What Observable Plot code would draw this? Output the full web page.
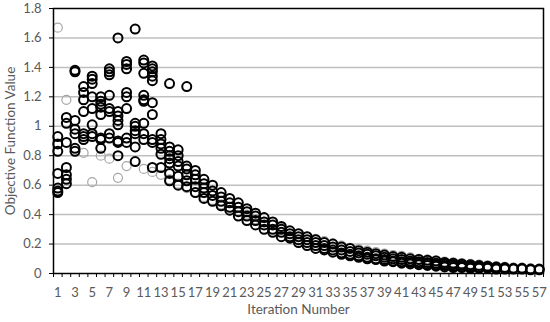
<!DOCTYPE html>
<html>
<head>
<meta charset="utf-8">
<script src="https://cdn.jsdelivr.net/npm/d3@7"></script>
<script src="https://cdn.jsdelivr.net/npm/@observablehq/plot@0.6"></script>
<style>
  html, body { margin: 0; padding: 0; background: #fff; }
  #chart svg { display: block; }
</style>
</head>
<body>
<div id="chart"></div>
<script>
// Iteration numbers (categories)
const iterations = d3.range(1, 58);
// Labelled ticks on the x axis
const xTickLabels = d3.range(1, 58, 2);
// y ticks
const yTicks = [0, 0.2, 0.4, 0.6, 0.8, 1, 1.2, 1.4, 1.6, 1.8];

// Black runs: objective values read per iteration
const blackValues = [
  [0.93, 0.88, 0.83, 0.68, 0.58, 0.56, 0.55],            // 1
  [1.06, 1.02, 0.89, 0.72, 0.67, 0.64, 0.61],            // 2
  [1.38, 1.37, 1.04, 0.98, 0.95, 0.85, 0.83],            // 3
  [1.27, 1.23, 1.18, 1.10, 0.95, 0.93, 0.91],            // 4
  [1.34, 1.32, 1.29, 1.20, 1.12, 1.01, 0.95, 0.93],      // 5
  [1.20, 1.17, 1.15, 1.13, 1.08, 0.92, 0.91, 0.85],      // 6
  [1.39, 1.37, 1.35, 1.21, 1.12, 1.10, 0.95, 0.92],      // 7
  [1.60, 1.10, 1.07, 1.04, 1.01, 0.90, 0.89, 0.80],      // 8
  [1.44, 1.42, 1.39, 1.23, 1.20, 1.12, 0.92, 0.89],      // 9
  [1.66, 1.02, 1.00, 0.97, 0.95, 0.86, 0.76],            // 10
  [1.45, 1.43, 1.36, 1.21, 1.18, 1.17, 1.02, 0.95, 0.91],// 11
  [1.41, 1.39, 1.37, 1.34, 1.31, 1.16, 1.08, 0.91, 0.89, 0.72], // 12
  [0.95, 0.91, 0.88, 0.85, 0.81, 0.72],                  // 13
  [1.29, 0.86, 0.83, 0.80, 0.78, 0.75, 0.68, 0.63],      // 14
  [0.84, 0.80, 0.76, 0.73, 0.66, 0.60],                  // 15
  [1.27, 0.73, 0.71, 0.67, 0.63, 0.59],                  // 16
  [0.70, 0.67, 0.64, 0.59, 0.55],                        // 17
  [0.64, 0.61, 0.58, 0.55, 0.51],                        // 18
  [0.60, 0.56, 0.53, 0.49],                              // 19
  [0.55, 0.52, 0.49, 0.46],                              // 20
  [0.51, 0.48, 0.45, 0.43],                              // 21
  [0.48, 0.45, 0.42, 0.39],                              // 22
  [0.44, 0.42, 0.39, 0.36],                              // 23
  [0.41, 0.39, 0.36, 0.33],                              // 24
  [0.38, 0.35, 0.33, 0.30],                              // 25
  [0.35, 0.33, 0.30, 0.28],                              // 26
  [0.32, 0.30, 0.28, 0.25],                              // 27
  [0.29, 0.27, 0.25, 0.24],                              // 28
  [0.27, 0.25, 0.23, 0.21],                              // 29
  [0.25, 0.23, 0.21, 0.19],                              // 30
  [0.23, 0.21, 0.19, 0.17],                              // 31
  [0.21, 0.19, 0.17, 0.16],                              // 32
  [0.20, 0.18, 0.16, 0.145],                             // 33
  [0.18, 0.16, 0.14, 0.13],                              // 34
  [0.17, 0.15, 0.13, 0.12],                              // 35
  [0.155, 0.14, 0.12, 0.11],                             // 36
  [0.145, 0.13, 0.11, 0.10],                             // 37
  [0.135, 0.12, 0.10, 0.095],                            // 38
  [0.125, 0.11, 0.095, 0.085],                           // 39
  [0.115, 0.10, 0.085, 0.08],                            // 40
  [0.11, 0.095, 0.08, 0.07],                             // 41
  [0.10, 0.085, 0.075, 0.065],                           // 42
  [0.095, 0.08, 0.07, 0.06],                             // 43
  [0.09, 0.075, 0.065, 0.055],                           // 44
  [0.085, 0.07, 0.06, 0.05],                             // 45
  [0.075, 0.065, 0.055, 0.045],                          // 46
  [0.07, 0.06, 0.05, 0.04],                              // 47
  [0.065, 0.055, 0.045, 0.04],                           // 48
  [0.06, 0.05, 0.04, 0.035],                             // 49
  [0.055, 0.045, 0.035],                                 // 50
  [0.05, 0.04, 0.035],                                   // 51
  [0.045, 0.035, 0.03],                                  // 52
  [0.04, 0.035, 0.03],                                   // 53
  [0.035, 0.03],                                         // 54
  [0.035, 0.03],                                         // 55
  [0.03, 0.025],                                         // 56
  [0.03, 0.025]                                          // 57
];

// Gray run: one value per iteration (null = not visible)
const grayValues = [
  1.67, 1.18, null, 0.82, 0.62, 0.80, 0.78, 0.65, 0.73, null,
  0.71, 0.69, 0.67, 0.64, 0.61, 0.58, 0.55, 0.52, 0.50, 0.47,
  0.45, 0.42, 0.40, 0.37, 0.35, 0.33, 0.31, 0.29, 0.27, 0.25,
  0.235, 0.22, 0.205, 0.19, 0.175, 0.165, 0.155, 0.145, 0.135, 0.125,
  0.12, 0.11, 0.10, 0.095, 0.09, 0.08, 0.075, 0.07, 0.065, 0.06,
  0.055, 0.05, 0.045, 0.04, 0.04, 0.035, 0.03
];

const blackPoints = blackValues.flatMap((vals, i) => vals.map(v => ({iter: iterations[i], value: v})));
const grayPoints = grayValues
  .map((v, i) => ({iter: iterations[i], value: v}))
  .filter(d => d.value != null);
const categoryEdges = d3.range(0, 58).map(k => k + 0.5);

const font = "Lato, 'Open Sans', sans-serif";

const chart = Plot.plot({
  width: 550,
  height: 322,
  marginLeft: 53,
  marginRight: 7,
  marginTop: 8,
  marginBottom: 49,
  x: {domain: [0.5, 57.5], label: null},
  y: {domain: [0, 1.8], label: null},
  style: {fontFamily: font, fontSize: "13px", color: "#595959", background: "#fff"},
  marks: [
    Plot.ruleY(yTicks.slice(1, -1), {stroke: "#bfbfbf", strokeWidth: 1.5}),
    Plot.dot(grayPoints, {x: "iter", y: "value", r: 4.5, stroke: "#a6a6a6", strokeWidth: 1.2, fill: "none"}),
    Plot.dot(blackPoints, {x: "iter", y: "value", r: 4.5, stroke: "#000", strokeWidth: 2, fill: "none"}),
    Plot.frame({stroke: "#000", strokeWidth: 1.5}),
    Plot.axisY(yTicks, {tickSize: 4, tickPadding: 8, stroke: "#000", fill: "#595959", fontSize: 13,
      tickFormat: d => String(+d.toFixed(1)), label: null}),
    Plot.axisX(categoryEdges, {tickSize: 4, stroke: "#000", tickFormat: () => "", label: null}),
    Plot.axisX(xTickLabels, {tickSize: 0, tickPadding: 14, fill: "#595959", fontSize: 13,
      tickFormat: d => String(d), label: null}),
    Plot.text(["Iteration Number"], {frameAnchor: "bottom", dy: 40, fill: "#595959", fontSize: 13.5}),
    Plot.text(["Objective Function Value"], {frameAnchor: "left", dx: -43, rotate: -90, textAnchor: "middle",
      fill: "#595959", fontSize: 13.5})
  ]
});

document.getElementById("chart").appendChild(chart);
</script>
</body>
</html>
